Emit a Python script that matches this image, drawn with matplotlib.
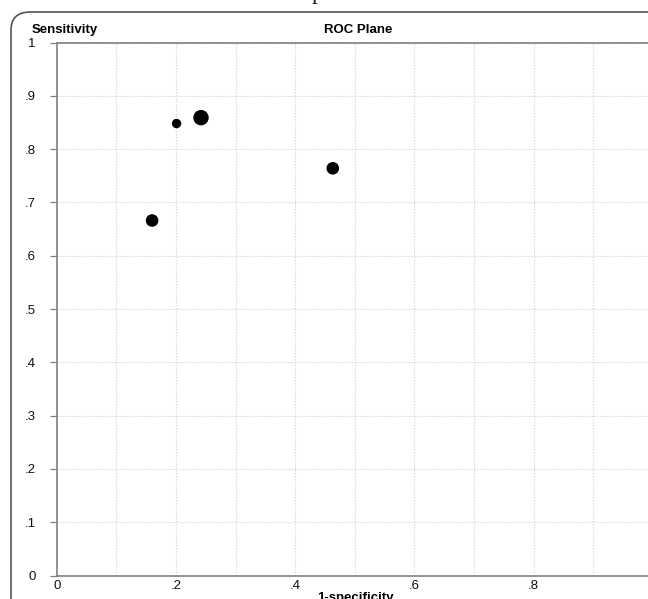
import matplotlib.pyplot as plt
from matplotlib.patches import FancyBboxPatch

fpr = [0.160, 0.201, 0.242, 0.463]
sens = [0.666, 0.848, 0.859, 0.764]
sizes = [82, 46, 123, 82]

x_ticks = [0, 0.2, 0.4, 0.6, 0.8, 1.0]
x_ticklabels = ["0", ".2", ".4", ".6", ".8", "1"]
y_ticks = [0, 0.1, 0.2, 0.3, 0.4, 0.5, 0.6, 0.7, 0.8, 0.9, 1.0]
y_ticklabels = ["0", ".1", ".2", ".3", ".4", ".5", ".6", ".7", ".8", ".9", "1"]
grid_vals = [0.1 * i for i in range(1, 11)]

plt.rcParams['font.family'] = ['Liberation Sans', 'DejaVu Sans']

W, H = 648, 599
fig = plt.figure(figsize=(W / 100, H / 100), dpi=100)

# rounded outer frame (runs off the right and bottom edge)
frame = FancyBboxPatch((11 / W, -0.2), 1.2, (H - 12) / H + 0.2,
                       boxstyle="round,pad=0,rounding_size=0.03",
                       transform=fig.transFigure, fill=False,
                       edgecolor='#555555', linewidth=1.2)
fig.patches.append(frame)

# descender of caption text cut off above the picture
fig.text(317 / W, 1 + 1 / H, "p", family='Liberation Serif', fontsize=17,
         ha='center', va='baseline', color='#222222')

x0, x1 = 56.7, 653
y0, y1 = 575.5, 42.5
ax = fig.add_axes([x0 / W, (H - y0) / H, (x1 - x0) / W, (y0 - y1) / H])
ax.set_xlim(0, 1)
ax.set_ylim(0, 1)

for v in grid_vals:
    ax.axvline(v, color='#d4d4d4', lw=0.8, ls=(0, (1.2, 1.5)), zorder=1)
    ax.axhline(v, color='#d4d4d4', lw=0.8, ls=(0, (1.2, 1.5)), zorder=1)

ax.scatter(fpr, sens, s=sizes, color='black', zorder=3, linewidths=0)

for side in ['left', 'bottom', 'top']:
    ax.spines[side].set_color('#808080')
    ax.spines[side].set_linewidth(1.2)
ax.spines['right'].set_visible(False)

ax.set_xticks(x_ticks)
ax.set_xticklabels(x_ticklabels)
ax.set_yticks(y_ticks)
ax.set_yticklabels(y_ticklabels)
ax.tick_params(axis='y', length=5, width=0.9, color='#808080', pad=10,
               labelsize=9.5, labelcolor='#111111')
ax.tick_params(axis='x', length=0, pad=3, labelsize=9.5, labelcolor='#111111')

fig.text(32 / W, (H - 33) / H, "Sensitivity", fontsize=9.5, fontweight='bold',
         ha='left', va='baseline')
fig.text(358 / W, (H - 33) / H, "ROC Plane", fontsize=9.5, fontweight='bold',
         ha='center', va='baseline')
fig.text(355 / W, (H - 592) / H, "1-specificity", fontsize=9.5,
         fontweight='bold', ha='center', va='top')

fig.savefig('out.png', dpi=100)
